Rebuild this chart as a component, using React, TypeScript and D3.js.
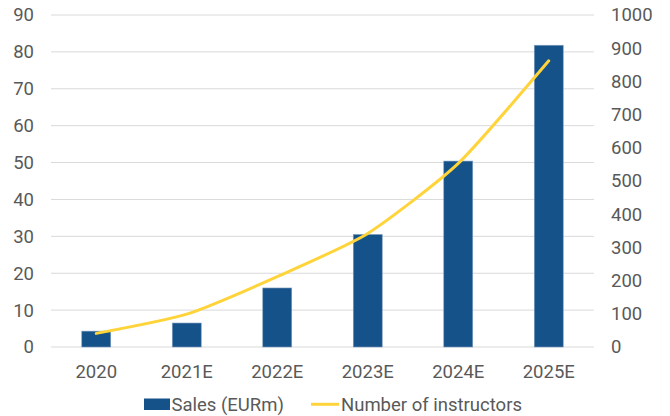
import React from "react";
import * as d3 from "d3";

const categories = ["2020", "2021E", "2022E", "2023E", "2024E", "2025E"];
const sales = [4.3, 6.5, 16.0, 30.5, 50.4, 81.8];
const instructors = [41, 99, 212, 342, 553, 862];
const leftTicks = [0, 10, 20, 30, 40, 50, 60, 70, 80, 90];
const rightTicks = [0, 100, 200, 300, 400, 500, 600, 700, 800, 900, 1000];

const W = 670;
const H = 416;
const plotLeft = 51;
const plotRight = 594;
const plotTop = 15;
const plotBottom = 347;

const BAR = "#15528A";
const LINE = "#FFD43B";
const TEXT = "#595959";
const GRID = "#D9D9D9";
const FONT = "Roboto, 'Noto Sans', sans-serif";
const FS = 18.5;

export default function App() {
  const x = d3.scaleBand<string>().domain(categories).range([plotLeft, plotRight]).paddingInner(0.68).paddingOuter(0.34);
  const yL = d3.scaleLinear().domain([0, 90]).range([plotBottom, plotTop]);
  const yR = d3.scaleLinear().domain([0, 1000]).range([plotBottom, plotTop]);
  const cx = (c: string) => (x(c) ?? 0) + x.bandwidth() / 2;
  const line = d3
    .line<number>()
    .x((_, i) => cx(categories[i]))
    .y((d) => yR(d))
    .curve(d3.curveCardinal.tension(0.4));

  return (
    <svg width={W} height={H} style={{ position: "absolute", left: 0, top: 0 }} fontFamily={FONT}>
      <rect width={W} height={H} fill="#fff" />
      {leftTicks.map((t) => (
        <line key={"g" + t} x1={plotLeft} x2={plotRight} y1={yL(t)} y2={yL(t)} stroke={GRID} strokeWidth={1} />
      ))}
      {leftTicks.map((t) => (
        <text key={"l" + t} x={34} y={yL(t)} dy="0.35em" textAnchor="end" fontSize={FS} fill={TEXT}>
          {t}
        </text>
      ))}
      {rightTicks.map((t) => (
        <text key={"r" + t} x={611} y={yR(t)} dy="0.35em" textAnchor="start" fontSize={FS} fill={TEXT}>
          {t}
        </text>
      ))}
      {categories.map((c, i) => (
        <rect
          key={"b" + c}
          x={x(c)}
          y={yL(sales[i])}
          width={x.bandwidth()}
          height={plotBottom - yL(sales[i])}
          fill={BAR}
          stroke="#7F9DBF"
          strokeWidth={0.6}
        />
      ))}
      <path d={line(instructors) ?? ""} fill="none" stroke={LINE} strokeWidth={3} strokeLinecap="round" />
      {categories.map((c) => (
        <text key={"x" + c} x={cx(c)} y={371.5} dy="0.35em" textAnchor="middle" fontSize={FS} fill={TEXT}>
          {c}
        </text>
      ))}
      <rect x={144} y={398.5} width={26} height={11.5} fill={BAR} />
      <text x={171.5} y={404.3} dy="0.35em" fontSize={FS} fill={TEXT}>
        Sales (EURm)
      </text>
      <line x1={311} x2={339} y1={404.3} y2={404.3} stroke={LINE} strokeWidth={3} />
      <text x={341} y={404.3} dy="0.35em" fontSize={FS} fill={TEXT}>
        Number of instructors
      </text>
    </svg>
  );
}
